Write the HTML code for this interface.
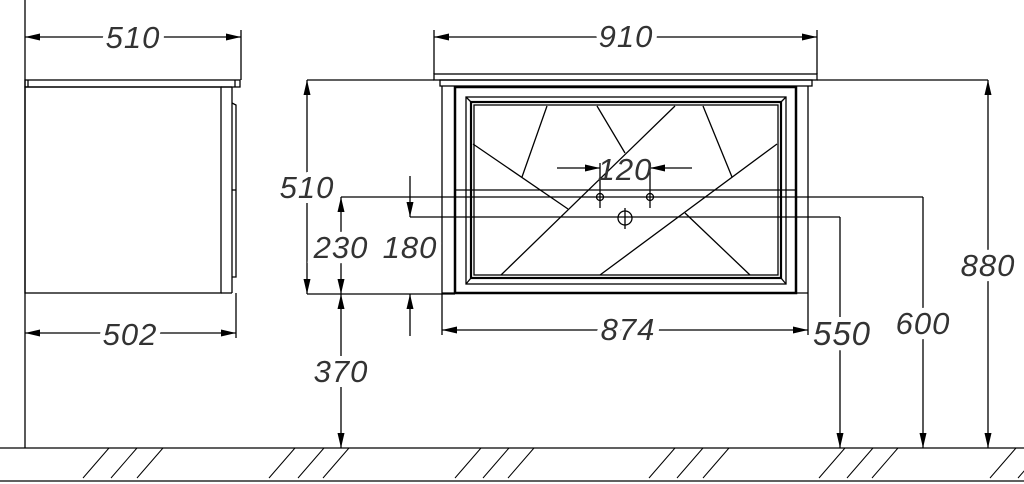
<!DOCTYPE html>
<html><head><meta charset="utf-8"><style>
html,body{margin:0;padding:0;background:#fff;}
svg{display:block;}
text{font-family:"Liberation Sans",sans-serif;font-style:italic;font-size:31px;fill:#333;text-anchor:middle;stroke:#fff;stroke-width:10;paint-order:stroke;letter-spacing:1px;}
text.n{stroke:none;}
</style></head><body>
<svg width="1024" height="484" viewBox="0 0 1024 484" xmlns="http://www.w3.org/2000/svg">
<defs>
<marker id="a" markerUnits="userSpaceOnUse" markerWidth="16" markerHeight="8" refX="15" refY="3.5" orient="auto-start-reverse"><path d="M0,0 L15,3.5 L0,7 z" fill="#000"/></marker>
</defs>
<g stroke="#000" stroke-width="1.3" fill="none">
<line x1="25" y1="0" x2="25" y2="448"/>
<line x1="0" y1="448" x2="1024" y2="448"/>
<line x1="0" y1="481" x2="1024" y2="481"/>
<rect x="25" y="80" width="215" height="7"/>
<line x1="28" y1="80" x2="28" y2="87"/><line x1="235" y1="80" x2="235" y2="87"/>
<rect x="25" y="87" width="196" height="206"/>
<line x1="221" y1="87" x2="232" y2="87"/><line x1="232" y1="87" x2="232" y2="293"/><line x1="221" y1="293" x2="232" y2="293"/>
<path d="M232,103 L236,105 L236,277 L232,277"/><line x1="232" y1="190" x2="236" y2="190"/>
<line x1="241" y1="30" x2="241" y2="80"/>
<line x1="236" y1="293" x2="236" y2="338"/>
<line x1="25" y1="37" x2="241" y2="37" marker-start="url(#a)" marker-end="url(#a)"/>
<line x1="25" y1="333" x2="236" y2="333" marker-start="url(#a)" marker-end="url(#a)"/>
<rect x="434" y="74" width="383" height="6"/>
<rect x="440" y="80" width="372" height="6"/>
<line x1="442" y1="86" x2="442" y2="335"/><line x1="808" y1="86" x2="808" y2="335"/>
<line x1="442" y1="293" x2="808" y2="293"/>
<rect x="455" y="87" width="341" height="206" stroke-width="2.5"/>
<rect x="466" y="97" width="320" height="187"/>
<rect x="471" y="102" width="310" height="176" stroke-width="2.2"/>
<rect x="474" y="105" width="304" height="170"/>
<line x1="466" y1="97" x2="471" y2="102"/><line x1="786" y1="97" x2="781" y2="102"/>
<line x1="466" y1="284" x2="471" y2="278"/><line x1="786" y1="284" x2="781" y2="278"/>
<line x1="473" y1="144" x2="568" y2="209"/>
<line x1="522" y1="177" x2="547" y2="106"/>
<line x1="597" y1="106" x2="625" y2="153"/>
<line x1="675" y1="106" x2="501" y2="275"/>
<line x1="777" y1="144" x2="600" y2="275"/>
<line x1="703" y1="106" x2="732" y2="177"/>
<line x1="685" y1="213" x2="750" y2="275"/>
<line x1="455" y1="190" x2="796" y2="190"/>
<line x1="341" y1="197" x2="923" y2="197"/>
<line x1="410" y1="217" x2="840" y2="217"/>
<line x1="434" y1="30" x2="434" y2="74"/><line x1="817" y1="30" x2="817" y2="74"/>
<line x1="434" y1="37" x2="817" y2="37" marker-start="url(#a)" marker-end="url(#a)"/>
<line x1="442" y1="330" x2="808" y2="330" marker-start="url(#a)" marker-end="url(#a)"/>
<line x1="557" y1="168" x2="600" y2="168" marker-end="url(#a)"/>
<line x1="692" y1="168" x2="650" y2="168" marker-end="url(#a)"/>
<line x1="600" y1="163" x2="600" y2="208"/><line x1="650" y1="163" x2="650" y2="208"/>
<circle cx="600" cy="197" r="3.5"/><circle cx="650" cy="197" r="3.5"/>
<circle cx="625" cy="218" r="7"/><line x1="625" y1="208" x2="625" y2="229"/>
<line x1="307" y1="80" x2="434" y2="80"/>
<line x1="307" y1="294" x2="455" y2="294"/>
<line x1="307" y1="80" x2="307" y2="294" marker-start="url(#a)" marker-end="url(#a)"/>
<line x1="341" y1="197" x2="341" y2="294" marker-start="url(#a)" marker-end="url(#a)"/>
<line x1="341" y1="294" x2="341" y2="448" marker-start="url(#a)" marker-end="url(#a)"/>
<line x1="410" y1="176" x2="410" y2="217" marker-end="url(#a)"/>
<line x1="410" y1="336" x2="410" y2="294" marker-end="url(#a)"/>
<line x1="817" y1="80" x2="988" y2="80"/>
<line x1="840" y1="217" x2="840" y2="448" marker-end="url(#a)"/>
<line x1="923" y1="197" x2="923" y2="448" marker-end="url(#a)"/>
<line x1="988" y1="80" x2="988" y2="448" marker-start="url(#a)" marker-end="url(#a)"/>
<g stroke-width="1">
<path d="M83,478 l26,-30 M111,478 l26,-30 M137,478 l26,-30
M269,478 l26,-30 M298,478 l26,-30 M323,478 l26,-30
M455,478 l26,-30 M483,478 l26,-30 M508,478 l26,-30
M649,478 l26,-30 M677,478 l26,-30 M703,478 l26,-30
M819,478 l26,-30 M847,478 l26,-30 M872,478 l26,-30
M990,478 l26,-30 M1018,478 l26,-30"/>
</g>
</g>
<text x="133" y="48">510</text>
<text x="130" y="345">502</text>
<text x="626" y="47">910</text>
<text class="n" x="625" y="180">120</text>
<text x="628" y="340">874</text>
<text x="307" y="198">510</text>
<text x="341" y="258">230</text>
<text x="410" y="258">180</text>
<text x="341" y="382">370</text>
<text x="842" y="345" style="font-size:33px">550</text>
<text x="923" y="334">600</text>
<text x="988" y="276">880</text>
</svg>
</body></html>
